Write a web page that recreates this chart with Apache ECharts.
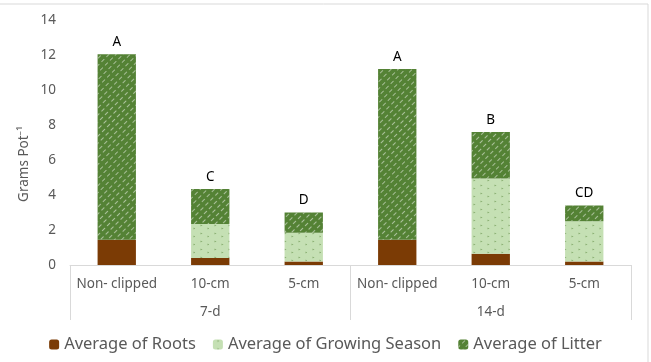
<!DOCTYPE html>
<html>
<head>
<meta charset="utf-8">
<script src="https://cdn.jsdelivr.net/npm/echarts@6/dist/echarts.min.js"></script>
<style>html,body{margin:0;padding:0;background:#fff}#c{width:651px;height:362px}</style>
</head>
<body>
<div id="c"></div>
<script>
const categories = ['Non- clipped', '10-cm', '5-cm', 'Non- clipped', '10-cm', '5-cm'];
const groups = ['7-d', '14-d'];
const roots = [1.45, 0.4, 0.2, 1.45, 0.65, 0.2];
const growingSeason = [0, 1.95, 1.65, 0, 4.3, 2.3];
const litter = [10.6, 2.0, 1.15, 9.75, 2.65, 0.9];
const letters = ['A', 'C', 'D', 'A', 'B', 'CD'];
const yTicks = { min: 0, max: 14, interval: 2 };
const yTitle = 'Grams Pot⁻¹';

const font = 'Noto Sans';
const chart = echarts.init(document.getElementById('c'));
chart.setOption({
  animation: false,
  textStyle: { fontFamily: font },
  graphic: [{
    type: 'rect', shape: { x: -2, y: 4, width: 650, height: 400 },
    style: { fill: 'none', stroke: '#d9d9d9', lineWidth: 1 }, silent: true
  }, {
    type: 'text', x: 24, y: 164, rotation: Math.PI / 2,
    style: { text: yTitle, fill: '#595959', fontSize: 13.5, fontFamily: font, align: 'center', verticalAlign: 'middle' },
    silent: true
  }],
  grid: { left: 70, right: 20, top: 20, bottom: 97 },
  legend: {
    bottom: 4, left: 'center', itemWidth: 10, itemHeight: 10, itemGap: 17,
    textStyle: { fontSize: 16.5, color: '#595959', fontFamily: font },
    data: ['Average of Roots', 'Average of Growing Season', 'Average of Litter']
  },
  xAxis: [{
    type: 'category', data: categories, position: 'bottom',
    axisLine: { show: true, lineStyle: { color: '#d9d9d9' } },
    axisTick: { show: false },
    axisLabel: { color: '#595959', fontSize: 13.5, margin: 12, interval: 0 }
  }, {
    type: 'category', data: groups, position: 'bottom',
    axisLine: { show: false },
    axisTick: { show: true, length: 55, lineStyle: { color: '#d9d9d9' } },
    axisLabel: { color: '#595959', fontSize: 13.5, margin: 40 }
  }],
  yAxis: {
    type: 'value', min: yTicks.min, max: yTicks.max, interval: yTicks.interval,
    axisLine: { show: false }, axisTick: { show: false },
    splitLine: { show: false },
    axisLabel: { color: '#595959', fontSize: 13.5, margin: 14 }
  },
  series: [{
    name: 'Average of Roots', type: 'bar', stack: 's', data: roots,
    barCategoryGap: '59%',
    itemStyle: { color: '#7b3b05' }
  }, {
    name: 'Average of Growing Season', type: 'bar', stack: 's', data: growingSeason,
    itemStyle: {
      color: '#c5e0b4',
      decal: { symbol: 'triangle', symbolSize: 0.6, rotation: Math.PI / 2, dashArrayX: [[3, 5], [0, 3, 3, 2]], dashArrayY: [3, 4], color: 'rgba(84,130,53,0.55)' }
    }
  }, {
    name: 'Average of Litter', type: 'bar', stack: 's', data: litter,
    itemStyle: {
      color: '#548235',
      decal: { symbol: 'rect', symbolSize: 1, rotation: -Math.PI / 4, dashArrayX: [[4, 3]], dashArrayY: [1, 4], color: 'rgba(255,255,255,0.5)' }
    },
    label: {
      show: true, position: 'top', distance: 5, color: '#000', fontSize: 13.5,
      formatter: p => letters[p.dataIndex]
    }
  }]
});
</script>
</body>
</html>
